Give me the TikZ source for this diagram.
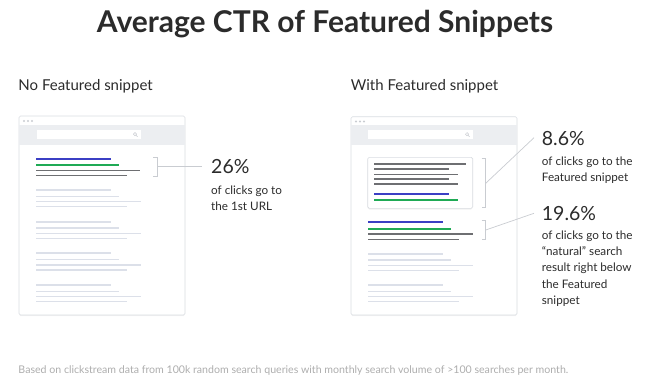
\documentclass[tikz,border=0pt]{standalone}
\usepackage{fontspec}
\setmainfont{Lato}
\usetikzlibrary{positioning,shadows}

\definecolor{ctrblue}{HTML}{3B3FC4}
\definecolor{ctrgreen}{HTML}{1FAA55}
\definecolor{darkline}{HTML}{6E6F72}
\definecolor{paleline}{HTML}{DCE0E9}
\definecolor{barfill}{HTML}{ECEEF1}
\definecolor{framegray}{HTML}{DADDE2}
\definecolor{bracketgray}{HTML}{C9CCD1}
\definecolor{inkgray}{HTML}{2B2B2B}
\definecolor{notegray}{HTML}{ADADAD}

\newcommand{\blurblines}[1]{\begin{tabular}[t]{@{}l@{}}#1\end{tabular}}

\begin{document}
\begin{tikzpicture}[
  x=1pt, y=-1pt,
  browser/.style={draw=framegray, fill=white, line width=0.6pt, rounded corners=1.5pt,
    drop shadow={opacity=0.10, shadow xshift=0pt, shadow yshift=-1.2pt}},
  searchbox/.style={fill=white},
  bar/.style={line width=2pt},
  thinbar/.style={line width=1.3pt},
  bracket/.style={draw=bracketgray, line width=0.7pt},
  pct/.style={anchor=base west, inner sep=0pt, text=inkgray, font=\fontsize{19.5}{22}\selectfont},
  blurb/.style={anchor=base west, inner sep=0pt, text=inkgray, font=\fontsize{11.7}{16.3}\selectfont},
  heading/.style={anchor=base west, inner sep=0pt, text=inkgray, font=\fontsize{15}{17}\selectfont}
]
\useasboundingbox (0,0) rectangle (649,391);

% title and headings
\node[anchor=base, inner sep=0pt, text=inkgray, font=\fontsize{30}{34}\selectfont\bfseries] (title) at (325,32.3) {Average CTR of Featured Snippets};
\node[heading] (noheading) at (18.3,90.7) {No Featured snippet};
\node[heading] (withheading) at (350.7,90.7) {With Featured snippet};

% left browser
\draw[browser] (19,116) rectangle (185,315);
\fill[barfill] (19.4,125) rectangle (184.6,145);
\foreach \dx in {0,4,8}
  \fill[bracketgray] (24+\dx,121) circle (1.1pt);
\fill[searchbox] (37,130) rectangle (141,139);
\draw[bracketgray, line width=0.5pt] (135,134.2) circle (1.6pt) (136.2,135.4) -- (137.6,136.8);

% first result
\draw[bar, ctrblue] (36,158.7) -- (111,158.7);
\draw[bar, ctrgreen] (36,165) -- (119,165);
\draw[thinbar, darkline] (36,170.3) -- (140,170.3);
\draw[thinbar, darkline] (36,175.3) -- (127,175.3);

% other results
\foreach \y in {190,221.7,253.3,285}{
  \draw[bar, paleline] (36,\y) -- (111,\y);
  \draw[thinbar, paleline] (36,\y+6.3) -- (119,\y+6.3);
  \draw[thinbar, paleline] (36,\y+11.7) -- (141,\y+11.7);
  \draw[thinbar, paleline] (36,\y+16.7) -- (127,\y+16.7);
}

% left callout
\draw[bracket] (153,157) -- (157,157) -- (157,176) -- (153,176);
\coordinate (leftbr) at (157,166.5);
\coordinate (lefttip) at (202,166.5);
\draw[bracket] (leftbr) -- (lefttip);
\node[pct] (leftpct) at (211,173) {26\%};
\node[blurb] (lefttext) at (211,194) {\blurblines{of clicks go to\\the 1st URL}};

% right browser
\draw[browser] (351,116.7) rectangle (517,315);
\fill[barfill] (351.4,125) rectangle (516.6,145);
\foreach \dx in {0,4,8}
  \fill[bracketgray] (356+\dx,121.5) circle (1.1pt);
\fill[searchbox] (368,130) rectangle (473,139);
\draw[bracketgray, line width=0.5pt] (467,134.2) circle (1.6pt) (468.2,135.4) -- (469.6,136.8);

% featured snippet box
\draw[browser] (367.7,157.3) rectangle (472.7,208.3);
\foreach \y/\xe in {164/466,169/449,174.3/458,179/449,184/458}
  \draw[thinbar, darkline] (374,\y) -- (\xe,\y);
\draw[bar, ctrblue] (374,194) -- (449,194);
\draw[bar, ctrgreen] (374,200) -- (458,200);

% natural result
\draw[bar, ctrblue] (368,222.3) -- (443,222.3);
\draw[bar, ctrgreen] (368,228.7) -- (451,228.7);
\draw[thinbar, darkline] (368,234) -- (473,234);
\draw[thinbar, darkline] (368,239.3) -- (459,239.3);

\foreach \y in {254,285.3}{
  \draw[bar, paleline] (368,\y) -- (443,\y);
  \draw[thinbar, paleline] (368,\y+6) -- (451,\y+6);
  \draw[thinbar, paleline] (368,\y+11.3) -- (473,\y+11.3);
  \draw[thinbar, paleline] (368,\y+16.3) -- (459,\y+16.3);
}

% right callouts
\draw[bracket] (481.7,158.3) -- (485.7,158.3) -- (485.7,207.3) -- (481.7,207.3);
\draw[bracket] (481.7,220.7) -- (485.7,220.7) -- (485.7,239.3) -- (481.7,239.3);
\coordinate (snipbr) at (485.7,183.3);
\coordinate (sniptip) at (534,137.7);
\coordinate (natbr) at (485.7,230);
\coordinate (nattip) at (534,213.3);
\draw[bracket] (snipbr) -- (sniptip);
\draw[bracket] (natbr) -- (nattip);

\node[pct] (snippct) at (541.7,145.5) {8.6\%};
\node[blurb] (sniptext) at (541.7,165) {\blurblines{of clicks go to the\\Featured snippet}};
\node[pct] (natpct) at (541.7,220) {19.6\%};
\node[blurb] (nattext) at (541.7,239.3) {\blurblines{of clicks go to the\\“natural” search\\result right below\\the Featured\\snippet}};

% footnote
\node[anchor=base west, inner sep=0pt, text=notegray, font=\fontsize{10.6}{12}\selectfont] (note) at (18.3,373.3)
  {Based on clickstream data from 100k random search queries with monthly search volume of >100 searches per month.};
\end{tikzpicture}
\end{document}
